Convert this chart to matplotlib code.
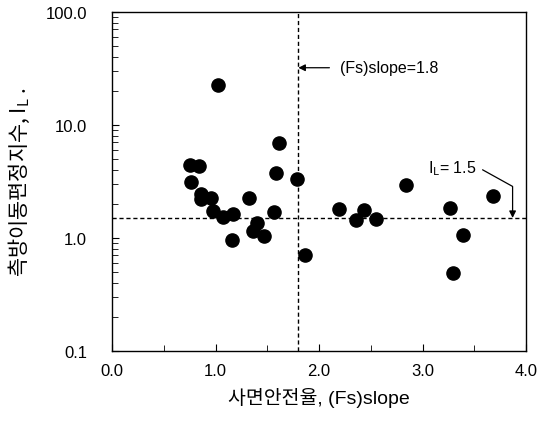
import matplotlib
matplotlib.use("Agg")
import matplotlib.pyplot as plt
from matplotlib.ticker import FixedLocator, FixedFormatter, LogLocator, NullFormatter

plt.rcParams['font.family'] = ['Liberation Sans', 'Noto Sans CJK KR', 'DejaVu Sans']
# mathtext pieces (subscript L) must also render Hangul
plt.rcParams['mathtext.fontset'] = 'custom'
plt.rcParams['mathtext.rm'] = 'Noto Sans CJK KR'
plt.rcParams['mathtext.it'] = 'Noto Sans CJK KR'
plt.rcParams['mathtext.default'] = 'rm'

# factor of safety of slope vs. lateral spreading index
fs_slope = [0.75, 0.84, 0.76, 0.86, 0.86, 0.96, 0.98, 1.07, 1.17, 1.16,
            1.32, 1.40, 1.36, 1.47, 1.56, 1.58, 1.61, 1.79, 1.86, 2.19,
            2.36, 2.43, 2.55, 2.84, 3.27, 3.39, 3.29, 3.68, 1.02]
il_index = [4.45, 4.36, 3.11, 2.45, 2.21, 2.24, 1.72, 1.52, 1.64, 0.95,
            2.24, 1.35, 1.16, 1.04, 1.71, 3.76, 6.93, 3.33, 0.71, 1.79,
            1.44, 1.75, 1.47, 2.96, 1.84, 1.07, 0.49, 2.35, 22.7]

fs_limit = 1.8
il_limit = 1.5

x_ticks = [0, 1, 2, 3, 4]
x_labels = ["0.0", "1.0", "2.0", "3.0", "4.0"]
y_ticks = [0.1, 1, 10, 100]
y_labels = ["0.1", "1.0", "10.0", "100.0"]

fig = plt.figure(figsize=(5.44, 4.27), dpi=100)
ax = fig.add_axes([0.206, 0.176, 0.761, 0.794])

ax.scatter(fs_slope, il_index, s=90, color='black', zorder=3)

ax.axvline(fs_limit, color='black', lw=1.0, ls=(0, (3, 2)))
ax.axhline(il_limit, color='black', lw=1.0, ls=(0, (3, 2)))

ax.set_yscale('log')
ax.set_xlim(0, 4)
ax.set_ylim(0.1, 100)

ax.xaxis.set_major_locator(FixedLocator(x_ticks))
ax.xaxis.set_major_formatter(FixedFormatter(x_labels))
ax.xaxis.set_minor_locator(FixedLocator([0.5, 1.5, 2.5, 3.5]))
ax.yaxis.set_major_locator(FixedLocator(y_ticks))
ax.yaxis.set_major_formatter(FixedFormatter(y_labels))
ax.yaxis.set_minor_locator(LogLocator(base=10, subs=range(2, 10)))
ax.yaxis.set_minor_formatter(NullFormatter())

ax.tick_params(axis='both', which='both', direction='in', labelsize=12)
ax.tick_params(axis='both', which='major', length=5)
ax.tick_params(axis='both', which='minor', length=4)
ax.tick_params(axis='x', which='major', pad=9)
ax.tick_params(axis='y', which='major', pad=18)

for sp in ax.spines.values():
    sp.set_linewidth(1.0)

ax.set_xlabel("사면안전율, (Fs)slope", fontsize=14, labelpad=6)
ax.set_ylabel("측방이동편정지수, I$_L$ .", fontsize=15, labelpad=10,
              family='Noto Sans CJK KR')

# (Fs)slope annotation
ax.annotate("", xy=(fs_limit, 32), xytext=(2.1, 32),
            arrowprops=dict(arrowstyle='-|>', color='black', lw=0.9,
                            mutation_scale=10, shrinkA=0, shrinkB=0))
ax.text(2.2, 32, "(Fs)slope=1.8", fontsize=11.5, va='center', ha='left')

# IL annotation
ax.text(3.05, 4.2, "I$_L$= 1.5", fontsize=11.5, va='center', ha='left')
ax.annotate("", xy=(3.87, il_limit), xytext=(3.58, 4.0),
            arrowprops=dict(arrowstyle='-|>', color='black', lw=0.9,
                            mutation_scale=10, shrinkA=0, shrinkB=0,
                            connectionstyle="angle,angleA=-29,angleB=90,rad=0"))

fig.savefig("out.png", dpi=100)
